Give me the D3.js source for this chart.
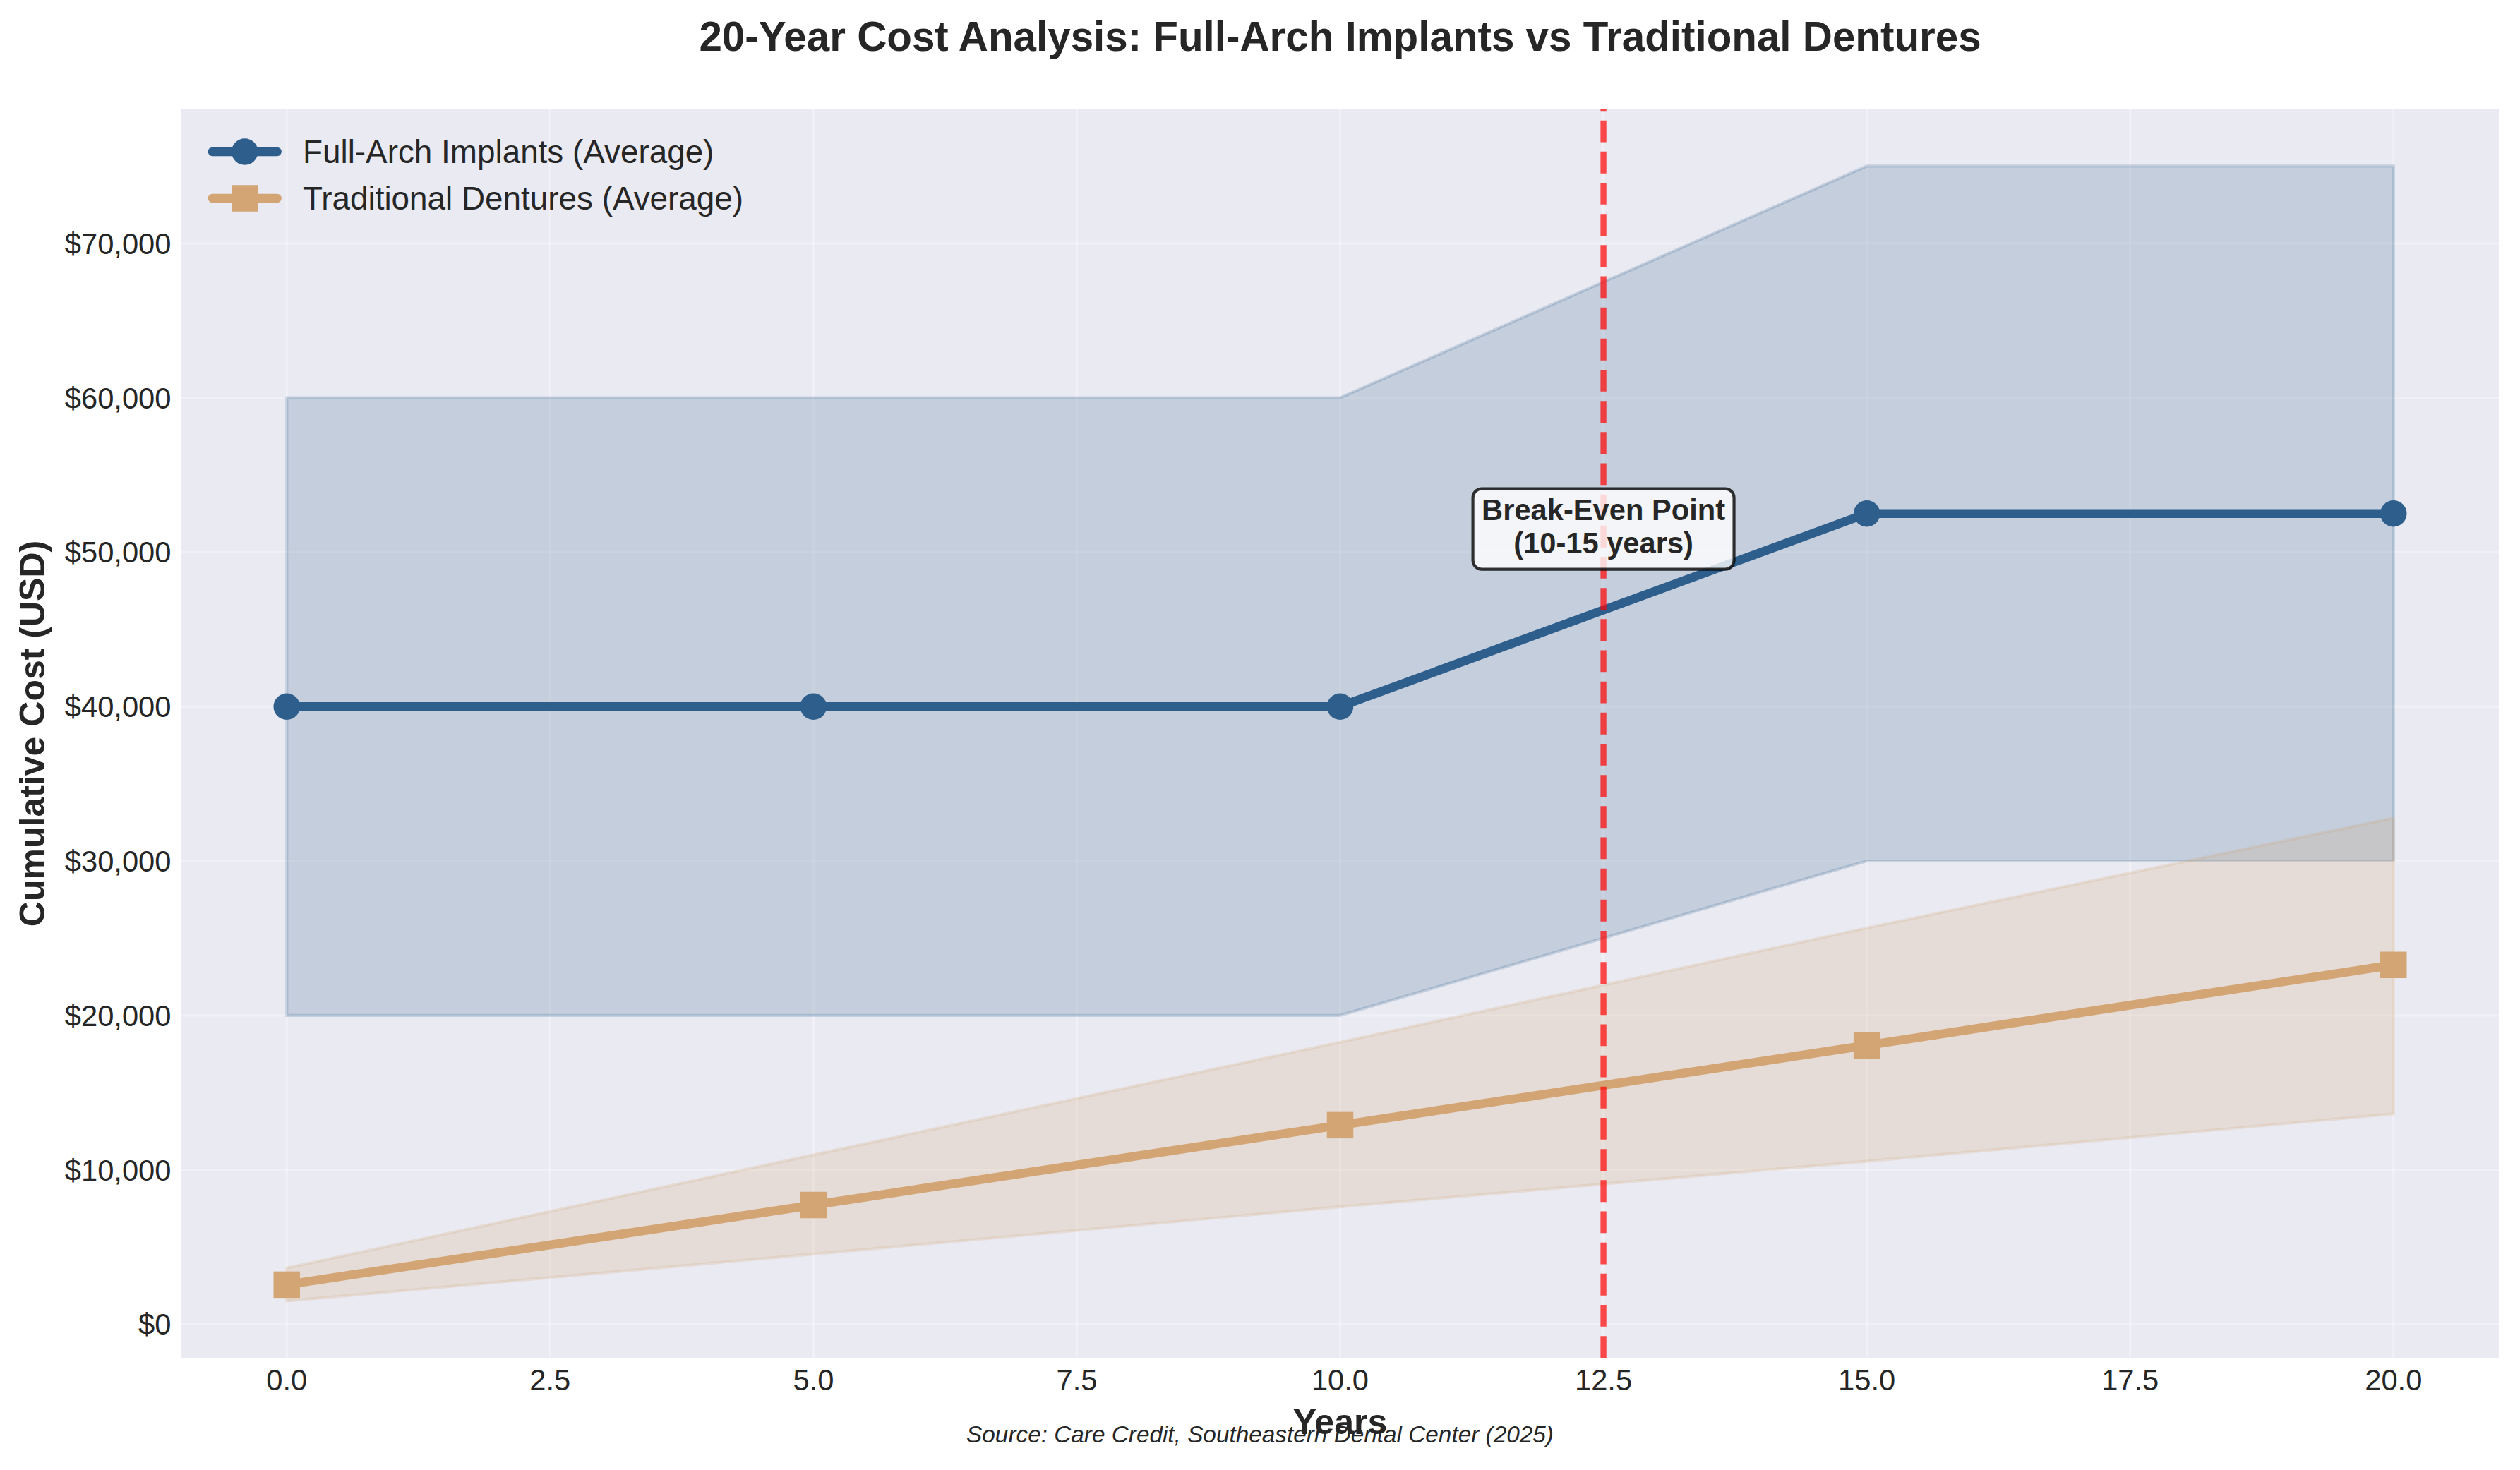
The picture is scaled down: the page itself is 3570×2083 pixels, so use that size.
<!DOCTYPE html>
<html>
<head>
<meta charset="utf-8">
<script src="https://cdn.jsdelivr.net/npm/d3@7"></script>
<style>
  html, body { margin: 0; padding: 0; background: #ffffff; }
  svg { display: block; }
  text { font-family: "Liberation Sans", Arial, sans-serif; }
</style>
</head>
<body>
<svg id="chart" width="3570" height="2083"></svg>
<script>
// ---- Data ----
const years = [0, 5, 10, 15, 20];
const implantAvg  = [40000, 40000, 40000, 52500, 52500];
const implantLow  = [20000, 20000, 20000, 30000, 30000];
const implantHigh = [60000, 60000, 60000, 75000, 75000];
const dentureAvg  = [2560, 7720, 12890, 18060, 23270];
const dentureLow  = [1500, 4540, 7600, 10550, 13620];
const dentureHigh = [3640, 10970, 18270, 25660, 32790];
const xTicks = [0, 2.5, 5, 7.5, 10, 12.5, 15, 17.5, 20];
const yTicks = [0, 10000, 20000, 30000, 40000, 50000, 60000, 70000];
const breakEvenYear = 12.5;
const annotationY = 51500;
const seriesNames = ["Full-Arch Implants (Average)", "Traditional Dentures (Average)"];
const titleText = "20-Year Cost Analysis: Full-Arch Implants vs Traditional Dentures";
const xLabelText = "Years";
const yLabelText = "Cumulative Cost (USD)";
const sourceText = "Source: Care Credit, Southeastern Dental Center (2025)";
const annotationLines = ["Break-Even Point", "(10-15 years)"];

// ---- Styles ----
const C_IMPL = "#2E5E8C";
const C_DENT = "#D4A574";
const TEXT = "#262626";
const PT = 300 / 72;

const svg = d3.select("#chart");
const W = 3570, H = 2083;
const plot = { left: 257, right: 3540, top: 155, bottom: 1924 };

// matplotlib-like 5% margins
const xMin = d3.min(years), xMax = d3.max(years);
const xPad = (xMax - xMin) * 0.05;
const allY = implantLow.concat(implantHigh, dentureLow, dentureHigh, implantAvg, dentureAvg);
const yMin = d3.min(allY), yMax = d3.max(allY);
const yPad = (yMax - yMin) * 0.05;

const x = d3.scaleLinear().domain([xMin - xPad, xMax + xPad]).range([plot.left, plot.right]);
const y = d3.scaleLinear().domain([yMin - yPad, yMax + yPad]).range([plot.bottom, plot.top]);

// background
svg.append("rect").attr("x", 0).attr("y", 0).attr("width", W).attr("height", H).attr("fill", "#ffffff");
svg.append("rect")
  .attr("x", plot.left).attr("y", plot.top)
  .attr("width", plot.right - plot.left).attr("height", plot.bottom - plot.top)
  .attr("fill", "#EAEAF2");

// grid
const grid = svg.append("g");
grid.selectAll("line.gx").data(xTicks).enter().append("line")
  .attr("x1", d => x(d)).attr("x2", d => x(d))
  .attr("y1", plot.top).attr("y2", plot.bottom)
  .attr("stroke", "#ffffff").attr("stroke-opacity", 0.3).attr("stroke-width", 0.8 * PT);
grid.selectAll("line.gy").data(yTicks).enter().append("line")
  .attr("y1", d => y(d)).attr("y2", d => y(d))
  .attr("x1", plot.left).attr("x2", plot.right)
  .attr("stroke", "#ffffff").attr("stroke-opacity", 0.3).attr("stroke-width", 0.8 * PT);

const plotG = svg.append("g");
// bands
const implBand = years.map((yr, i) => ({ x: yr, lo: implantLow[i], hi: implantHigh[i] }));
const dentBand = years.map((yr, i) => ({ x: yr, lo: dentureLow[i], hi: dentureHigh[i] }));
const area = d3.area().x(d => x(d.x)).y0(d => y(d.lo)).y1(d => y(d.hi));

plotG.append("path").attr("d", area(implBand))
  .attr("fill", C_IMPL).attr("fill-opacity", 0.2)
  .attr("stroke", C_IMPL).attr("stroke-opacity", 0.2).attr("stroke-width", 1 * PT);
plotG.append("path").attr("d", area(dentBand))
  .attr("fill", C_DENT).attr("fill-opacity", 0.2)
  .attr("stroke", C_DENT).attr("stroke-opacity", 0.2).attr("stroke-width", 1 * PT);

// lines
const implPts = years.map((yr, i) => ({ x: yr, v: implantAvg[i] }));
const dentPts = years.map((yr, i) => ({ x: yr, v: dentureAvg[i] }));
const line = d3.line().x(d => x(d.x)).y(d => y(d.v));
const LW = 3 * PT;
const MS = 9 * PT;

plotG.append("path").attr("d", line(implPts)).attr("fill", "none")
  .attr("stroke", C_IMPL).attr("stroke-width", LW)
  .attr("stroke-linecap", "round").attr("stroke-linejoin", "round");
plotG.selectAll("circle.im").data(implPts).enter().append("circle")
  .attr("cx", d => x(d.x)).attr("cy", d => y(d.v)).attr("r", MS / 2)
  .attr("fill", C_IMPL);

plotG.append("path").attr("d", line(dentPts)).attr("fill", "none")
  .attr("stroke", C_DENT).attr("stroke-width", LW)
  .attr("stroke-linecap", "round").attr("stroke-linejoin", "round");
plotG.selectAll("rect.dm").data(dentPts).enter().append("rect")
  .attr("x", d => x(d.x) - MS / 2).attr("y", d => y(d.v) - MS / 2)
  .attr("width", MS).attr("height", MS)
  .attr("fill", C_DENT);

// break-even dashed line (drawn from bottom to top)
plotG.append("line")
  .attr("x1", x(breakEvenYear)).attr("x2", x(breakEvenYear))
  .attr("y1", plot.bottom).attr("y2", plot.top)
  .attr("stroke", "#ff0000").attr("stroke-opacity", 0.7)
  .attr("stroke-width", 2 * PT)
  .attr("stroke-dasharray", `${3.7 * 2 * PT},${1.6 * 2 * PT}`);

// annotation
const annG = svg.append("g");
const acx = x(breakEvenYear), acy = y(annotationY);
const annFont = 10 * PT;
const annRect = annG.append("rect");
const annText = annG.append("text")
  .attr("text-anchor", "middle")
  .attr("font-weight", "bold").attr("font-size", annFont).attr("fill", TEXT);
annText.append("tspan").attr("x", acx).attr("y", acy - 12.5).text(annotationLines[0]);
annText.append("tspan").attr("x", acx).attr("y", acy + 34).text(annotationLines[1]);
let tw = 0;
annText.selectAll("tspan").each(function () { tw = Math.max(tw, this.getComputedTextLength()); });
const pad = 0.3 * annFont;
annRect
  .attr("x", acx - tw / 2 - pad).attr("y", acy - 57)
  .attr("width", tw + 2 * pad).attr("height", 114)
  .attr("rx", pad).attr("ry", pad)
  .attr("fill", "#ffffff").attr("fill-opacity", 0.8)
  .attr("stroke", "#000000").attr("stroke-opacity", 0.8).attr("stroke-width", 1 * PT);

// axes tick labels
const tickFont = 10 * PT;
const fmtMoney = d3.format("$,.0f");
const axG = svg.append("g");
axG.selectAll("text.yt").data(yTicks).enter().append("text")
  .attr("x", plot.left - 3.5 * PT).attr("y", d => y(d) + 15)
  .attr("text-anchor", "end").attr("font-size", tickFont).attr("fill", TEXT)
  .text(d => fmtMoney(d));
axG.selectAll("text.xt").data(xTicks).enter().append("text")
  .attr("x", d => x(d)).attr("y", 1970)
  .attr("text-anchor", "middle").attr("font-size", tickFont).attr("fill", TEXT)
  .text(d => d3.format(".1f")(d));

// axis labels
svg.append("text")
  .attr("x", (plot.left + plot.right) / 2).attr("y", 2032)
  .attr("text-anchor", "middle").attr("font-weight", "bold")
  .attr("font-size", 12 * PT).attr("fill", TEXT).text(xLabelText);
svg.append("text")
  .attr("transform", `translate(63, ${(plot.top + plot.bottom) / 2}) rotate(-90)`)
  .attr("text-anchor", "middle").attr("font-weight", "bold")
  .attr("font-size", 12 * PT).attr("fill", TEXT).text(yLabelText);

// title
svg.append("text")
  .attr("x", (plot.left + plot.right) / 2).attr("y", 72)
  .attr("text-anchor", "middle").attr("font-weight", "bold")
  .attr("font-size", 14 * PT).attr("fill", TEXT).text(titleText);

// source
svg.append("text")
  .attr("x", W / 2).attr("y", 2044)
  .attr("text-anchor", "middle").attr("font-style", "italic")
  .attr("font-size", 8 * PT).attr("fill", TEXT).text(sourceText);

// legend
const legFont = 11 * PT;
const leg = svg.append("g");
const legRows = [
  { name: seriesNames[0], color: C_IMPL, marker: "circle", cy: 215 },
  { name: seriesNames[1], color: C_DENT, marker: "square", cy: 281 }
];
const hx0 = 300.9, hx1 = 392.6, hcx = (hx0 + hx1) / 2;
legRows.forEach(r => {
  leg.append("line").attr("x1", hx0).attr("x2", hx1).attr("y1", r.cy).attr("y2", r.cy)
    .attr("stroke", r.color).attr("stroke-width", LW).attr("stroke-linecap", "round");
  if (r.marker === "circle") {
    leg.append("circle").attr("cx", hcx).attr("cy", r.cy).attr("r", MS / 2).attr("fill", r.color);
  } else {
    leg.append("rect").attr("x", hcx - MS / 2).attr("y", r.cy - MS / 2)
      .attr("width", MS).attr("height", MS).attr("fill", r.color);
  }
  leg.append("text").attr("x", 429).attr("y", r.cy + 16)
    .attr("font-size", legFont).attr("fill", TEXT).text(r.name);
});
</script>
</body>
</html>
